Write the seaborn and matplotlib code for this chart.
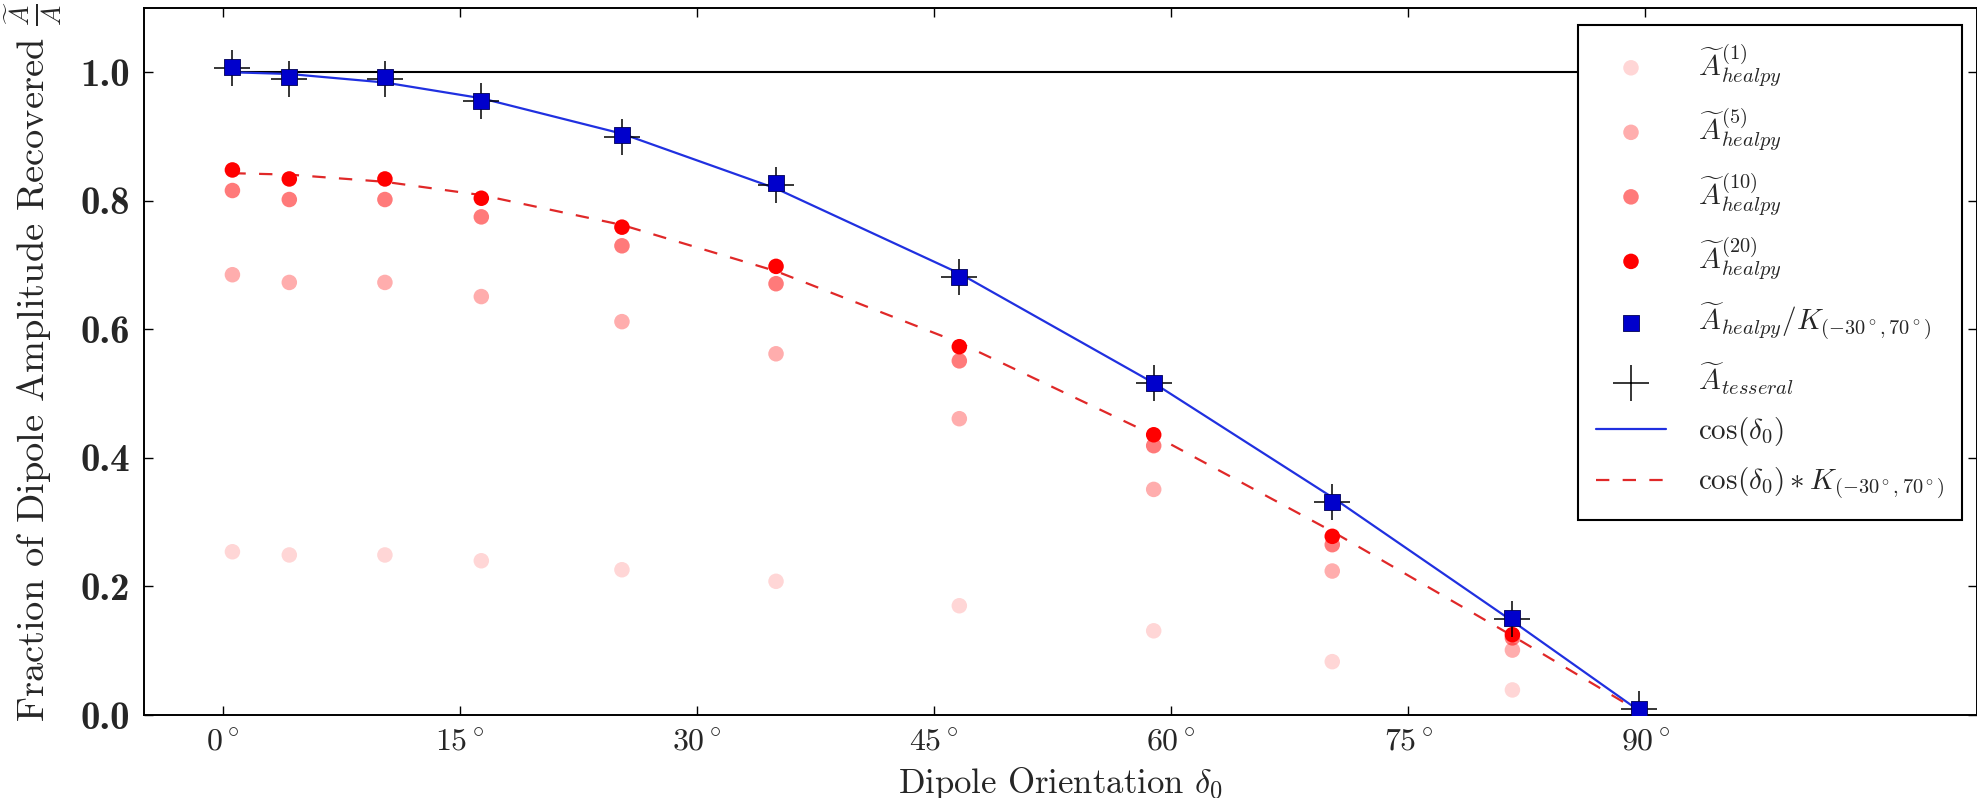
import numpy as np
import matplotlib
matplotlib.use("Agg")
import matplotlib.pyplot as plt
import seaborn as sns

# Dipole orientation (degrees) of each simulated map
delta0 = [0.6, 4.2, 10.25, 16.35, 25.25, 35.0, 46.6, 58.9, 70.2, 81.6, 89.6]

# Recovered amplitude fractions for different healpy resolutions
a_healpy_1 = [0.254, 0.249, 0.249, 0.240, 0.226, 0.208, 0.170, 0.131, 0.083, 0.039, 0.002]
a_healpy_5 = [0.685, 0.673, 0.673, 0.651, 0.612, 0.562, 0.461, 0.351, 0.224, 0.101, 0.005]
a_healpy_10 = [0.816, 0.802, 0.802, 0.775, 0.730, 0.671, 0.551, 0.419, 0.265, 0.120, 0.007]
a_healpy_20 = [0.848, 0.834, 0.834, 0.804, 0.759, 0.698, 0.573, 0.436, 0.278, 0.125, 0.008]

# Corrected healpy estimate and tesseral estimate
a_healpy_corr = [1.008, 0.992, 0.992, 0.956, 0.902, 0.827, 0.682, 0.517, 0.332, 0.151, 0.010]
a_tesseral = [1.006, 0.990, 0.990, 0.955, 0.900, 0.825, 0.681, 0.516, 0.331, 0.150, 0.009]

# Sky-cut correction factor for the (-30 deg, 70 deg) mask
K_cut = 0.843

x_ticks = [0, 15, 30, 45, 60, 75, 90]
x_tick_labels = [r"$0^\circ$", r"$15^\circ$", r"$30^\circ$", r"$45^\circ$",
                 r"$60^\circ$", r"$75^\circ$", r"$90^\circ$"]
y_ticks = [0.0, 0.2, 0.4, 0.6, 0.8, 1.0]
y_tick_labels = ["0.0", "0.2", "0.4", "0.6", "0.8", "1.0"]

sns.set_style("ticks")
plt.rcParams.update({
    "font.family": "serif",
    "font.serif": ["cmr10", "DejaVu Serif"],
    "mathtext.fontset": "cm",
    "axes.unicode_minus": False,
    "xtick.direction": "in",
    "ytick.direction": "in",
    "xtick.top": True,
    "ytick.right": True,
})

fig = plt.figure(figsize=(19.77, 7.98), dpi=100)
ax = fig.add_axes([0.0728, 0.104, 0.9272, 0.886])

x = np.asarray(delta0)
rad = np.deg2rad(x)

# reference level of full recovery
ax.plot([x[0], 105], [1.0, 1.0], color="black", lw=1.5, zorder=1)

red = "#ff0000"
dot_kw = dict(marker="o", s=125, edgecolor="none", zorder=3)
sns.scatterplot(x=x, y=a_healpy_1, color=red, alpha=0.16,
                label=r"$\widetilde{A}^{(1)}_{healpy}$", ax=ax, **dot_kw)
sns.scatterplot(x=x, y=a_healpy_5, color=red, alpha=0.32,
                label=r"$\widetilde{A}^{(5)}_{healpy}$", ax=ax, **dot_kw)
sns.scatterplot(x=x, y=a_healpy_10, color=red, alpha=0.52,
                label=r"$\widetilde{A}^{(10)}_{healpy}$", ax=ax, **dot_kw)
sns.scatterplot(x=x, y=a_healpy_20, color=red, alpha=1.0,
                label=r"$\widetilde{A}^{(20)}_{healpy}$", ax=ax, **dot_kw)
sns.scatterplot(x=x, y=a_healpy_corr, color="#0000cc", marker="s", s=140,
                edgecolor="#000055", linewidth=0.6, zorder=6,
                label=r"$\widetilde{A}_{healpy}/K_{(-30^\circ,70^\circ)}$", ax=ax)
sns.scatterplot(x=x, y=a_tesseral, color="black", marker="+", s=680,
                linewidth=1.1, zorder=5,
                label=r"$\widetilde{A}_{tesseral}$", ax=ax)

sns.lineplot(x=x, y=np.cos(rad), color="#2030e0", lw=1.6, zorder=2,
             label=r"$\cos(\delta_0)$", ax=ax)
sns.lineplot(x=x, y=np.cos(rad) * K_cut, color="#e02828", lw=1.6,
             linestyle=(0, (6, 6)), zorder=2,
             label=r"$\cos(\delta_0) * K_{(-30^\circ,70^\circ)}$", ax=ax)

ax.set_xlim(-5, 111)
ax.set_ylim(0, 1.1)
ax.set_xticks(x_ticks, labels=x_tick_labels, fontsize=23)
ax.set_yticks(y_ticks, labels=y_tick_labels)
for lab in ax.get_yticklabels():
    lab.set_fontfamily("cmb10")
    lab.set_fontsize(28)
ax.tick_params(axis="both", which="major", length=6.5, width=1.0,
               color="black", pad=10)
for sp in ax.spines.values():
    sp.set_linewidth(1.4)
    sp.set_color("black")

ax.set_xlabel(r"Dipole Orientation $\delta_0$", fontsize=25, labelpad=6)
ax.set_ylabel(r"Fraction of Dipole Amplitude Recovered $\frac{\widetilde{A}}{A}$",
              fontsize=27.7, labelpad=12)

leg = ax.legend(loc="upper right", bbox_to_anchor=(0.992, 0.976),
                borderaxespad=0, fontsize=21, frameon=True, fancybox=False,
                framealpha=1, edgecolor="black", handlelength=2.4,
                labelspacing=0.62, scatterpoints=1, borderpad=0.6,
                handletextpad=1.1)
leg.get_frame().set_linewidth(1.5)

fig.savefig("out.png", dpi=100)
